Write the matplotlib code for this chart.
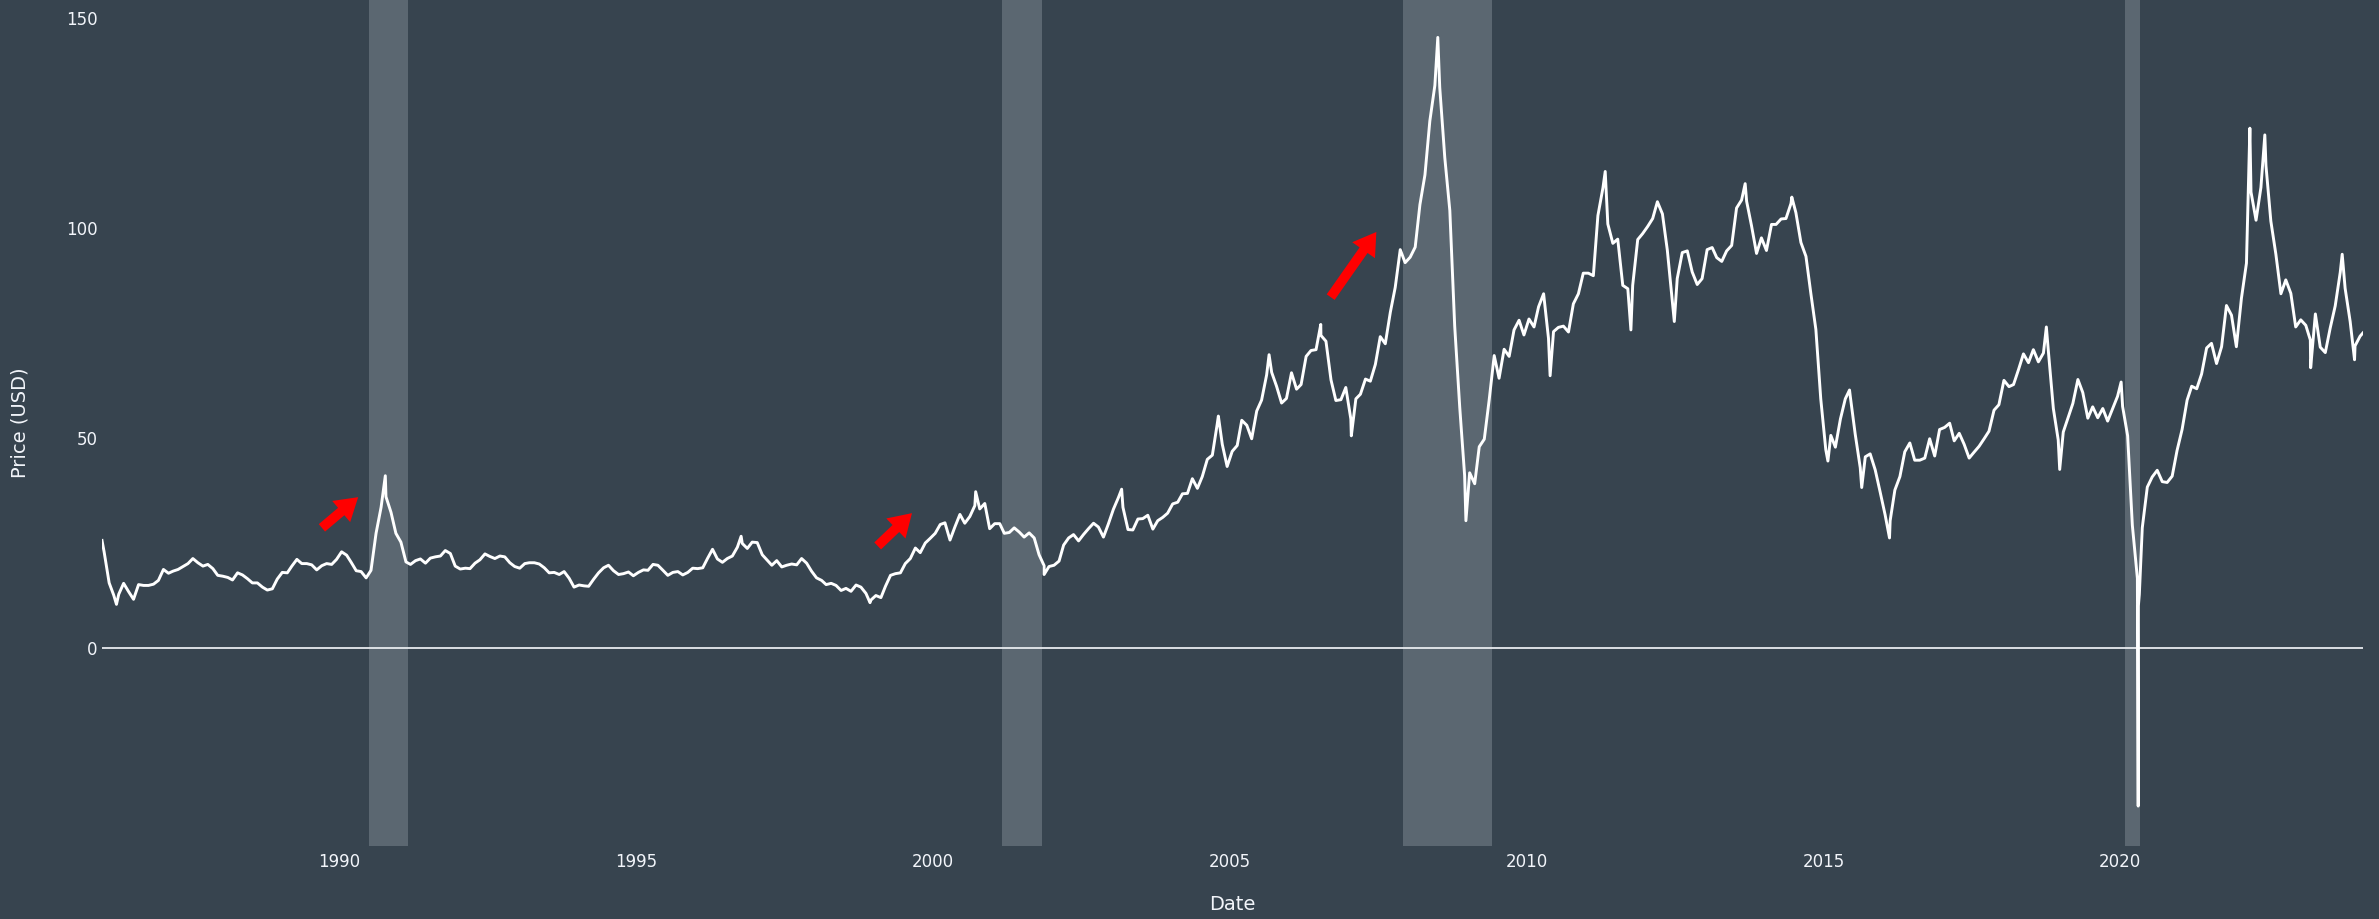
import matplotlib
matplotlib.use('Agg')
import matplotlib.pyplot as plt
import matplotlib.dates as mdates
import pandas as pd

# WTI crude, monthly level (mid-month), Jan 1986 .. Jan 2024
wti_monthly = [
    22.9, 15.5, 12.6, 12.8, 15.4, 13.4, 11.6, 15.1, 14.9, 14.9, 15.2, 16.1,   # 1986
    18.7, 17.8, 18.3, 18.7, 19.4, 20.1, 21.3, 20.3, 19.5, 19.9, 18.9, 17.3,   # 1987
    17.1, 16.8, 16.2, 17.9, 17.4, 16.5, 15.5, 15.5, 14.5, 13.8, 14.1, 16.4,   # 1988
    18.0, 17.9, 19.5, 21.1, 20.1, 20.1, 19.8, 18.6, 19.6, 20.1, 19.9, 21.1,   # 1989
    22.9, 22.1, 20.4, 18.4, 18.2, 16.7, 18.5, 27.3, 33.5, 36.0, 32.3, 27.3,   # 1990
    25.2, 20.5, 19.9, 20.8, 21.2, 20.2, 21.4, 21.7, 21.9, 23.2, 22.5, 19.5,   # 1991
    18.8, 19.0, 18.9, 20.2, 21.0, 22.4, 21.8, 21.3, 21.9, 21.7, 20.3, 19.4,   # 1992
    19.0, 20.1, 20.3, 20.3, 20.0, 19.1, 17.9, 18.0, 17.5, 18.2, 16.6, 14.5,   # 1993
    15.0, 14.8, 14.7, 16.4, 17.9, 19.1, 19.7, 18.4, 17.5, 17.7, 18.1, 17.2,   # 1994
    18.0, 18.6, 18.5, 19.9, 19.7, 18.5, 17.3, 18.0, 18.2, 17.4, 18.0, 19.0,   # 1995
    18.9, 19.1, 21.3, 23.5, 21.2, 20.4, 21.3, 21.9, 24.0, 24.9, 23.7, 25.2,   # 1996
    25.1, 22.2, 21.0, 19.7, 20.8, 19.3, 19.7, 20.0, 19.8, 21.3, 20.2, 18.3,   # 1997
    16.7, 16.1, 15.1, 15.4, 14.9, 13.7, 14.2, 13.5, 15.0, 14.5, 13.0, 11.4,   # 1998
    12.5, 12.0, 14.7, 17.3, 17.7, 17.9, 20.1, 21.3, 23.8, 22.7, 25.0, 26.1,   # 1999
    27.3, 29.4, 29.8, 25.7, 28.8, 31.8, 29.7, 31.3, 33.9, 33.1, 34.4, 28.4,   # 2000
    29.6, 29.6, 27.3, 27.5, 28.6, 27.6, 26.4, 27.4, 26.2, 22.2, 19.6, 19.4,   # 2001
    19.7, 20.7, 24.5, 26.2, 27.0, 25.5, 27.0, 28.4, 29.7, 28.8, 26.4, 29.5,   # 2002
    33.0, 35.8, 33.5, 28.2, 28.1, 30.7, 30.8, 31.6, 28.3, 30.3, 31.1, 32.1,   # 2003
    34.3, 34.7, 36.7, 36.8, 40.3, 38.0, 40.8, 44.9, 45.9, 53.3, 48.5, 43.2,   # 2004
    46.8, 48.2, 54.2, 53.0, 49.8, 56.4, 59.0, 65.0, 65.6, 62.3, 58.3, 59.4,   # 2005
    65.5, 61.6, 62.7, 69.4, 70.8, 71.0, 74.4, 73.0, 63.8, 58.9, 59.1, 62.0,   # 2006
    54.5, 59.3, 60.4, 64.0, 63.5, 67.5, 74.1, 72.4, 79.9, 85.8, 94.8, 91.7,   # 2007
    93.0, 95.4, 105.5, 112.6, 125.4, 133.9, 133.4, 116.7, 104.1, 76.6, 57.3, 41.1,  # 2008
    41.7, 39.1, 47.9, 49.7, 59.0, 69.6, 64.2, 71.1, 69.4, 75.7, 78.0, 74.5,   # 2009
    78.3, 76.4, 81.2, 84.3, 73.7, 75.3, 76.3, 76.6, 75.2, 81.9, 84.3, 89.2,   # 2010
    89.2, 88.6, 102.9, 109.5, 100.9, 96.3, 97.3, 86.3, 85.5, 86.3, 97.2, 98.6,  # 2011
    100.3, 102.2, 106.2, 103.3, 94.7, 82.3, 87.9, 94.1, 94.5, 89.5, 86.5, 87.9,  # 2012
    94.8, 95.3, 92.9, 92.0, 94.5, 95.8, 104.7, 106.6, 106.3, 100.5, 93.9, 97.6,  # 2013
    94.6, 100.8, 100.8, 102.1, 102.2, 105.8, 103.6, 96.5, 93.2, 84.4, 75.8, 59.3,  # 2014
    47.2, 50.6, 47.8, 54.5, 59.3, 59.8, 50.9, 42.9, 45.5, 46.2, 42.4, 37.2,   # 2015
    31.7, 30.3, 37.6, 40.8, 46.7, 48.8, 44.7, 44.7, 45.2, 49.8, 45.7, 52.0,   # 2016
    52.5, 53.5, 49.3, 51.1, 48.5, 45.2, 46.6, 48.0, 49.8, 51.6, 56.6, 57.9,   # 2017
    63.7, 62.2, 62.7, 66.3, 70.0, 67.9, 71.0, 68.1, 70.2, 70.8, 57.0, 49.5,   # 2018
    51.4, 55.0, 58.2, 63.9, 60.8, 54.7, 57.4, 54.8, 57.0, 54.0, 57.0, 59.9,   # 2019
    57.5, 50.5, 29.2, 16.6, 28.6, 38.3, 40.7, 42.3, 39.6, 39.4, 40.9, 47.0,   # 2020
    52.0, 59.0, 62.3, 61.7, 65.2, 71.4, 72.5, 67.7, 71.7, 81.5, 79.2, 71.7,   # 2021
    83.2, 91.6, 108.5, 101.8, 109.6, 114.8, 101.6, 93.7, 84.3, 87.6, 84.4, 76.4,  # 2022
    78.1, 76.8, 73.3, 79.5, 71.6, 70.3, 76.1, 81.4, 89.4, 85.6, 77.7, 71.9,   # 2023
    74.2,                                                                      # 2024
]

# daily extremes visible in the picture
spike_dates = ['1986-01-02', '1986-04-01', '1990-10-11',
               '1996-10-08', '1998-12-10', '2000-09-20', '2001-11-15', '2003-03-07',
               '2004-10-22', '2005-08-30', '2006-07-14', '2007-01-18', '2008-07-03',
               '2008-12-23', '2010-05-25', '2011-04-29', '2011-10-04', '2012-06-27',
               '2013-09-06', '2014-06-20', '2015-01-28', '2015-06-10', '2015-08-24',
               '2016-02-11', '2018-10-03', '2018-12-24', '2020-01-06', '2020-04-20',
               '2020-04-21', '2020-04-27', '2022-03-08', '2022-06-08', '2023-03-17',
               '2023-09-27', '2023-12-12', '2024-02-02']
spike_values = [25.6, 10.4, 41.0,
                26.6, 10.8, 37.2, 17.5, 37.8,
                55.2, 69.8, 77.0, 50.5, 145.3,
                30.3, 64.8, 113.4, 75.7, 77.7,
                110.5, 107.3, 44.5, 61.4, 38.2,
                26.2, 76.4, 42.5, 63.3, -37.6,
                10.0, 12.8, 123.7, 122.1, 66.7,
                93.7, 68.6, 75.0]

recessions = [('1990-07-01', '1991-03-01'), ('2001-03-01', '2001-11-01'),
              ('2007-12-01', '2009-06-01'), ('2020-02-01', '2020-04-30')]

arrow_tails = [('1989-09-16', 28.6), ('1999-01-26', 24.3), ('2006-09-13', 83.5)]
arrow_heads = [('1990-04-27', 35.9), ('1999-08-25', 32.1), ('2007-06-21', 99.0)]

monthly_idx = pd.date_range('1986-01-01', periods=len(wti_monthly), freq='MS') + pd.Timedelta(days=14)
s = pd.concat([pd.Series(wti_monthly, index=monthly_idx),
               pd.Series(spike_values, index=pd.to_datetime(spike_dates))]).sort_index()

BG = '#37444f'
TXT = '#f2f5fa'

fig = plt.figure(figsize=(23.79, 9.19), dpi=100, facecolor=BG)
ax = fig.add_axes([102 / 2379, 1 - 846 / 919, (2363 - 102) / 2379, 846 / 919])
ax.set_facecolor(BG)

for a, b in recessions:
    ax.axvspan(pd.Timestamp(a), pd.Timestamp(b), color='#5b6771', lw=0, zorder=1)

ax.axhline(0, color='#e8ebef', lw=1.3, zorder=2)
ax.plot(s.index, s.values, color='white', lw=2.1, zorder=3)

for (tx, ty), (hx, hy) in zip(arrow_tails, arrow_heads):
    ax.annotate('', xy=(pd.Timestamp(hx), hy), xytext=(pd.Timestamp(tx), ty),
                arrowprops=dict(facecolor='red', edgecolor='none', width=7,
                                headwidth=20, headlength=16, shrink=0), zorder=4)

ax.set_xlim(s.index[0], s.index[-1])
ax.set_ylim(-47.1, 154.2)
ax.set_yticks([0, 50, 100, 150])
ax.xaxis.set_major_locator(mdates.YearLocator(5))
ax.xaxis.set_major_formatter(mdates.DateFormatter('%Y'))
ax.tick_params(axis='both', length=0, colors=TXT, labelsize=12)
ax.tick_params(axis='y', pad=3)
ax.tick_params(axis='x', pad=5)
for sp in ax.spines.values():
    sp.set_visible(False)

ax.set_xlabel('Date', color=TXT, fontsize=14)
ax.set_ylabel('Price (USD)', color=TXT, fontsize=14)
ax.xaxis.set_label_coords(0.5, -0.058)
ax.yaxis.set_label_coords(-0.032, 0.5)

fig.savefig('out.png', dpi=100, facecolor=BG)
